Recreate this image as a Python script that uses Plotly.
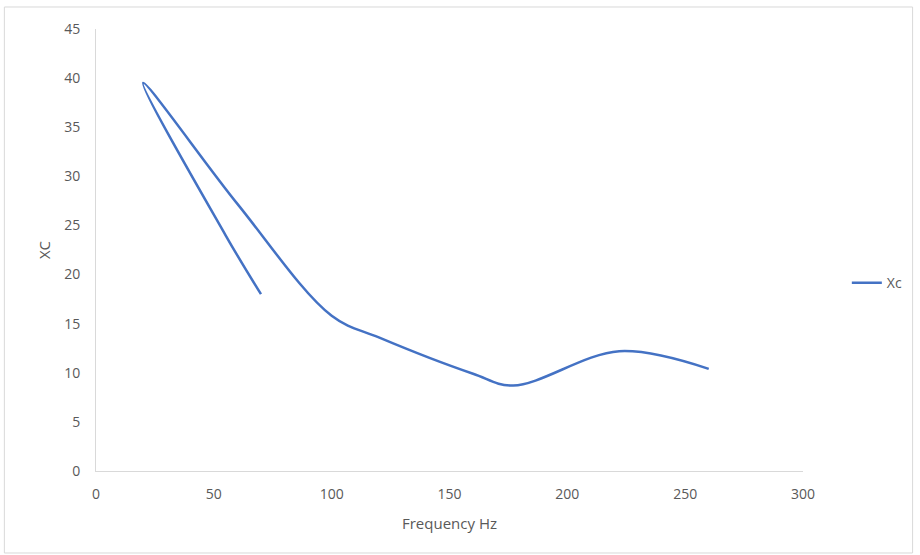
import plotly.graph_objects as go

freq = [70, 55, 20, 60, 100, 120, 160, 177, 222, 260]
xc = [18, 24, 39.5, 27.2, 15.8, 13.6, 9.9, 8.7, 12.2, 10.4]
series_name = "Xc"
x_ticks = [0, 50, 100, 150, 200, 250, 300]
y_ticks = [0, 5, 10, 15, 20, 25, 30, 35, 40, 45]

fig = go.Figure()
fig.add_trace(go.Scatter(
    x=freq, y=xc, mode="lines", name=series_name,
    line=dict(color="#4472C4", width=2.5, shape="spline", smoothing=1.0),
))

fam = "Liberation Sans Narrow, Open Sans, Liberation Sans, sans-serif"
font = dict(family=fam, size=14, color="#595959")
fig.update_layout(
    width=920, height=555,
    margin=dict(l=96, r=114, t=29, b=84),
    paper_bgcolor="white", plot_bgcolor="white",
    font=font,
    showlegend=True,
    legend=dict(x=1.062, y=0.425, xanchor="left", yanchor="middle",
                font=dict(family=fam, size=14, color="#595959"), bgcolor="rgba(0,0,0,0)"),
    xaxis=dict(range=[0, 300], tickvals=x_ticks, showgrid=False, zeroline=False,
               showline=True, linecolor="#d9d9d9", linewidth=1, ticks="",
               ticklabelstandoff=10,
               title=dict(text="Frequency Hz", font=dict(family=fam, size=15, color="#595959"), standoff=16)),
    yaxis=dict(range=[0, 45], tickvals=y_ticks, showgrid=False, zeroline=False,
               showline=True, linecolor="#d9d9d9", linewidth=1, ticks="",
               ticklabelstandoff=12,
               title=dict(text="XC", font=dict(family=fam, size=15, color="#595959"), standoff=9)),
    shapes=[dict(type="rect", xref="paper", yref="paper",
                 x0=-0.1296, x1=1.155, y0=-0.1855, y1=1.0498,
                 line=dict(color="#d9d9d9", width=1), fillcolor="rgba(0,0,0,0)")],
)
fig.write_html("out.html")
